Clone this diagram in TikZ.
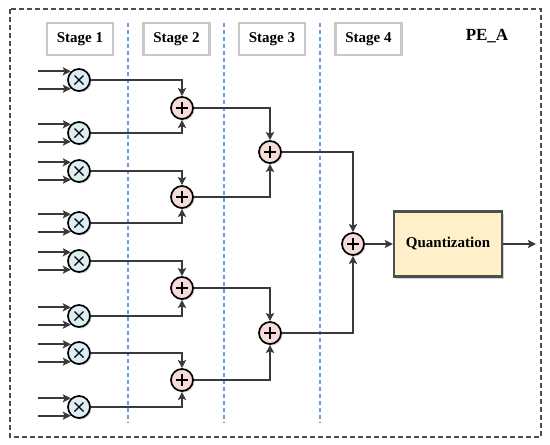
\documentclass[tikz,border=0pt]{standalone}
\usepackage{fontspec}
\setmainfont{Liberation Serif}
\usetikzlibrary{shadows,arrows.meta,calc}
\definecolor{mulfill}{HTML}{DCEEF3}
\definecolor{addfill}{HTML}{F5DCD8}
\definecolor{qfill}{HTML}{FFF0CA}
\definecolor{ln}{HTML}{3A3A3A}
\definecolor{sep}{HTML}{6E9EE2}
\definecolor{stagebd}{HTML}{C8C8C8}
\tikzset{
  opshadow/.style={drop shadow={shadow xshift=1.5pt,shadow yshift=-1.5pt,opacity=0.35,fill=gray}},
  mulop/.style={circle,draw=black,line width=1.7pt,fill=mulfill,minimum size=22pt,inner sep=0pt,opshadow,
    path picture={\draw[line width=1.1pt] ($(path picture bounding box.center)+(-4.5,-4.5)$)--($(path picture bounding box.center)+(4.5,4.5)$)
      ($(path picture bounding box.center)+(-4.5,4.5)$)--($(path picture bounding box.center)+(4.5,-4.5)$);}},
  addop/.style={circle,draw=black,line width=1.7pt,fill=addfill,minimum size=22pt,inner sep=0pt,opshadow,
    path picture={\draw[line width=1.1pt] ($(path picture bounding box.center)+(-6,0)$)--($(path picture bounding box.center)+(6,0)$)
      ($(path picture bounding box.center)+(0,-6)$)--($(path picture bounding box.center)+(0,6)$);}},
  arr/.style={draw=ln,line width=2.2pt,-{Stealth[length=8pt,width=8pt,inset=1.5pt]}},
  stagebox/.style={draw=stagebd,line width=2.4pt,fill=white,minimum width=66pt,minimum height=32pt,inner sep=0pt,font=\bfseries\fontsize{15}{18}\selectfont},
  sepline/.style={draw=sep,line width=1.5pt,dash pattern=on 4pt off 3pt},
  qbox/.style={draw=ln!90,line width=2.4pt,fill=qfill,minimum width=108pt,minimum height=65pt,inner sep=0pt,font=\bfseries\fontsize{15}{18}\selectfont,
    drop shadow={shadow xshift=2pt,shadow yshift=-2pt,opacity=0.35,fill=gray}},
}
\begin{document}
\begin{tikzpicture}[x=1pt,y=-1pt]
\useasboundingbox (0,0) rectangle (550,445);
\draw[draw=ln!90,line width=2pt,dash pattern=on 5pt off 3pt] (10,9) rectangle (541,437);
% separators
\coordinate (s1t) at (128,23); \coordinate (s1b) at (128,423);
\coordinate (s2t) at (224,23); \coordinate (s2b) at (224,423);
\coordinate (s3t) at (320,23); \coordinate (s3b) at (320,423);
\draw[sepline] (s1t) -- (s1b);
\draw[sepline] (s2t) -- (s2b);
\draw[sepline] (s3t) -- (s3b);
% stage labels
\node[stagebox] (st1) at (80,39) {Stage 1};
\node[stagebox] (st2) at (176.5,39) {Stage 2};
\node[stagebox] (st3) at (272,39) {Stage 3};
\node[stagebox] (st4) at (368.5,39) {Stage 4};
\node[font=\bfseries\fontsize{17}{20}\selectfont] (pe) at (487,36) {PE\_A};
% multipliers
\foreach \i/\y in {1/80,2/133,3/171,4/223,5/261,6/316,7/353,8/407}{
  \node[mulop] (m\i) at (79,\y) {};
  \draw[arr] ($(m\i.133)+(-33,0)$) -- (m\i.133);
  \draw[arr] ($(m\i.227)+(-33,0)$) -- (m\i.227);
}
% stage 2 adders
\node[addop] (a1) at (182,108) {};
\node[addop] (a2) at (182,197) {};
\node[addop] (a3) at (182,288) {};
\node[addop] (a4) at (182,380) {};
% stage 3 adders
\node[addop] (b1) at (270,152) {};
\node[addop] (b2) at (270,333) {};
% stage 4 adder
\node[addop] (c1) at (353,244) {};
% quantization
\node[qbox] (q) at (448,244) {Quantization};
\coordinate (out) at (536,244);
% connections
\draw[arr] (m1.east) -| (a1.north);
\draw[arr] (m2.east) -| (a1.south);
\draw[arr] (m3.east) -| (a2.north);
\draw[arr] (m4.east) -| (a2.south);
\draw[arr] (m5.east) -| (a3.north);
\draw[arr] (m6.east) -| (a3.south);
\draw[arr] (m7.east) -| (a4.north);
\draw[arr] (m8.east) -| (a4.south);
\draw[arr] (a1.east) -| (b1.north);
\draw[arr] (a2.east) -| (b1.south);
\draw[arr] (a3.east) -| (b2.north);
\draw[arr] (a4.east) -| (b2.south);
\draw[arr] (b1.east) -| (c1.north);
\draw[arr] (b2.east) -| (c1.south);
\draw[arr] (c1.east) -- (q.west);
\draw[arr] (q.east) -- (out);
\end{tikzpicture}
\end{document}
